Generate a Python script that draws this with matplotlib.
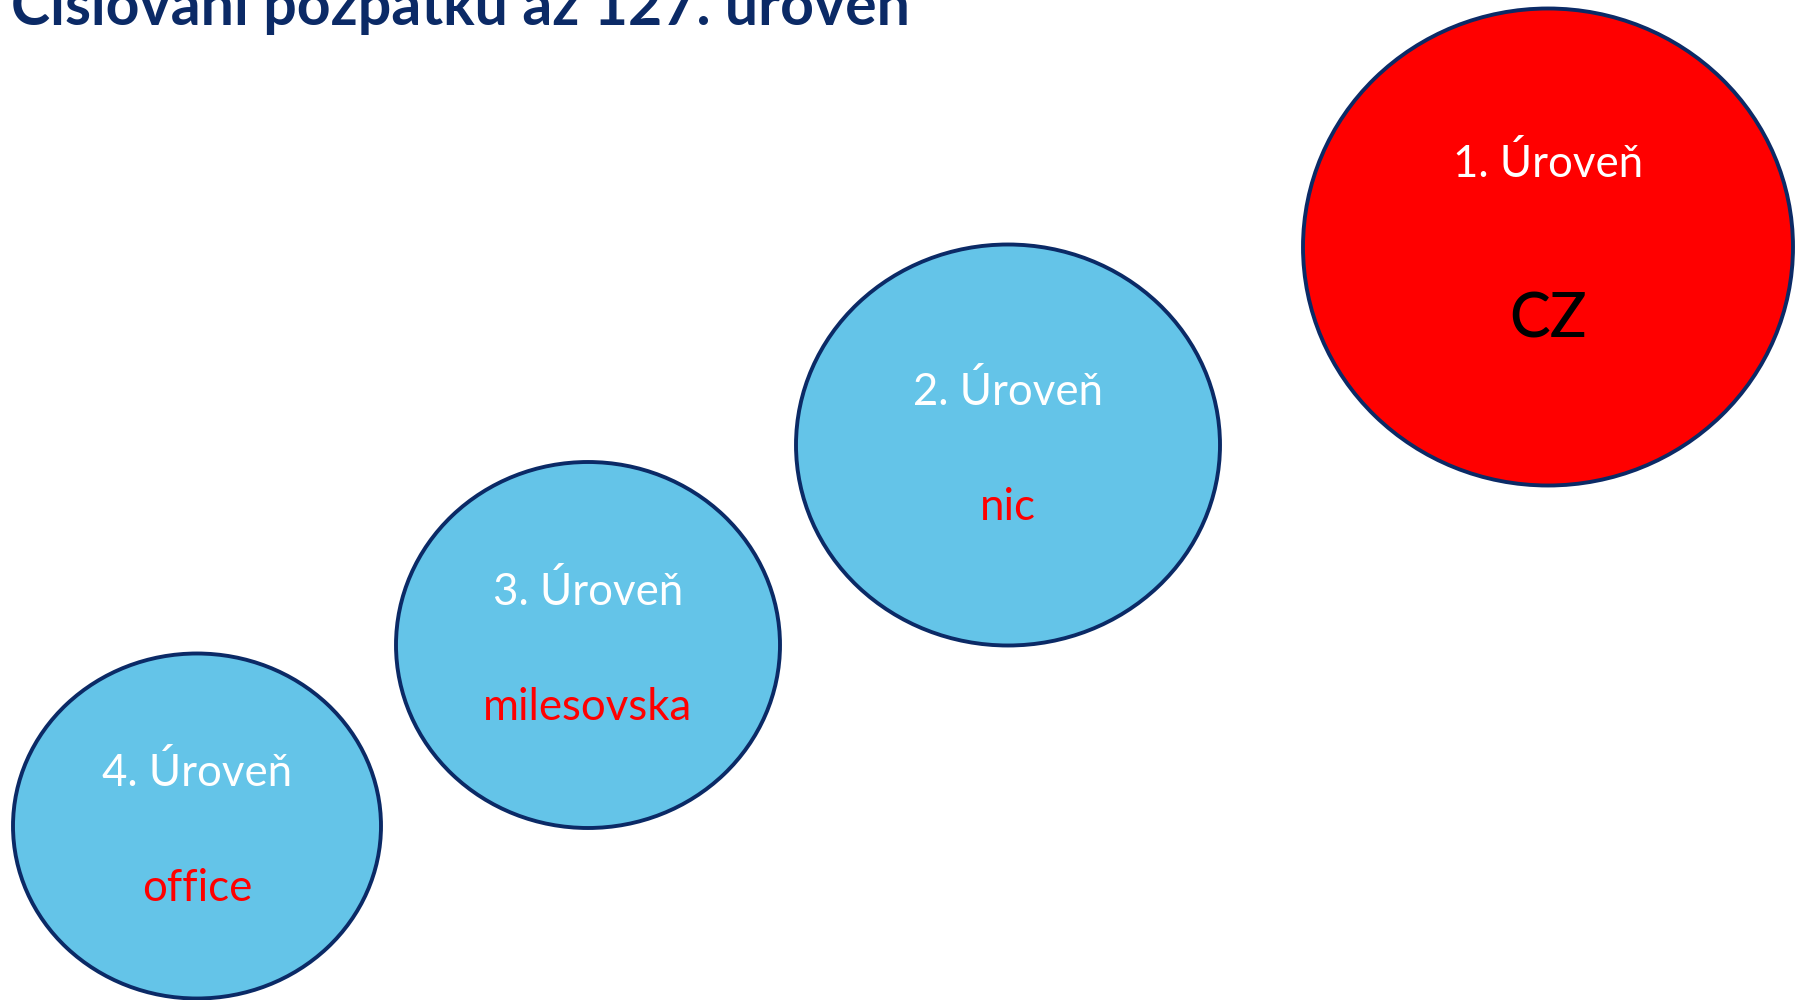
import matplotlib.pyplot as plt
from matplotlib.patches import Ellipse

# shapes (pixel space of the 1795x1000 slide)
levels = ['1. Úroveň', '2. Úroveň', '3. Úroveň', '4. Úroveň']
values = ['CZ', 'nic', 'milesovska', 'office']
cx = [1548, 1008, 588, 197]
cy = [247, 445, 645, 826]
w = [490, 424, 384, 368]
h = [477, 401, 366, 345]
fills = ['#FF0000', '#64C4E8', '#64C4E8', '#64C4E8']
value_colors = ['black', '#FF0000', '#FF0000', '#FF0000']

title = 'Číslování pozpátku až 127. úroveň'
navy = '#0B2A66'

plt.rcParams['font.family'] = ['Lato', 'DejaVu Sans']

fig = plt.figure(figsize=(17.95, 10), dpi=100)
ax = fig.add_axes([0, 0, 1, 1])
ax.set_xlim(0, 1795)
ax.set_ylim(1000, 0)
ax.axis('off')

for i in range(len(levels)):
    ax.add_patch(Ellipse((cx[i], cy[i]), w[i], h[i], facecolor=fills[i],
                         edgecolor=navy, linewidth=2.8))
    big = i == 0
    ax.text(cx[i], cy[i] - (70 if big else 40), levels[i], color='white',
            fontsize=31.5, ha='center', va='baseline')
    ax.text(cx[i], cy[i] + (91 if big else 75), values[i], color=value_colors[i],
            fontsize=44 if big else 31.5, fontweight='medium' if big else 'normal',
            ha='center', va='baseline')

ax.text(11, 25, title, color=navy, fontsize=42.5, fontweight='bold',
        ha='left', va='baseline')

fig.savefig('out.png', dpi=100)
